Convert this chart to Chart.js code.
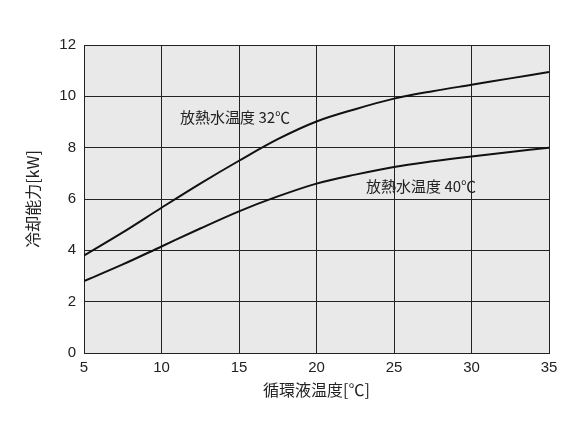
<!DOCTYPE html>
<html>
<head>
<meta charset="utf-8">
<script src="https://cdn.jsdelivr.net/npm/chart.js@4.4.1/dist/chart.umd.min.js"></script>
<style>
  html, body { margin: 0; padding: 0; background: #fff; }
  .chart-container { width: 583px; height: 437px; }
</style>
</head>
<body>
<div class="chart-container">
  <canvas id="chart" width="583" height="437"></canvas>
</div>
<script>
// 循環液温度 [℃]
const temps = [5, 7.5, 10, 12.5, 15, 17.5, 20, 22.5, 25, 27.5, 30, 32.5, 35];
// 冷却能力 [kW]
const water32 = [3.8, 4.7, 5.66, 6.6, 7.49, 8.33, 9.02, 9.5, 9.91, 10.2, 10.45, 10.7, 10.95];
const water40 = [2.8, 3.45, 4.15, 4.85, 5.52, 6.1, 6.6, 6.95, 7.25, 7.47, 7.66, 7.83, 8.0];
const seriesLabels = ['放熱水温度 32℃', '放熱水温度 40℃'];
const xTitle = '循環液温度[℃]';
const yTitle = '冷却能力[kW]';

const toPoints = (ys) => temps.map((t, i) => ({ x: t, y: ys[i] }));

// グレーの背景とテキスト
const decor = {
  id: 'decor',
  beforeDraw(chart) {
    const { ctx, chartArea: a } = chart;
    ctx.save();
    ctx.fillStyle = '#e9e9e9';
    ctx.fillRect(a.left, a.top, a.right - a.left, a.bottom - a.top);
    ctx.restore();
  },
  afterDraw(chart) {
    const { ctx } = chart;
    const xs = chart.scales.x, ys = chart.scales.y;
    ctx.save();
    ctx.fillStyle = '#222';
    ctx.font = '15px "Noto Sans CJK JP"';
    ctx.textBaseline = 'middle';
    ctx.textAlign = 'left';
    ctx.fillText(seriesLabels[0], xs.getPixelForValue(11.2), ys.getPixelForValue(9.2));
    ctx.fillText(seriesLabels[1], xs.getPixelForValue(23.2), ys.getPixelForValue(6.5));
    ctx.font = '16px "Noto Sans CJK JP"';
    ctx.textAlign = 'center';
    ctx.fillText(xTitle, (chart.chartArea.left + chart.chartArea.right) / 2, 390);
    ctx.translate(33, (chart.chartArea.top + chart.chartArea.bottom) / 2);
    ctx.rotate(-Math.PI / 2);
    ctx.fillText(yTitle, 0, 0);
    ctx.restore();
  }
};

const lineStyle = {
  borderColor: '#111',
  borderWidth: 2,
  pointRadius: 0,
  fill: false,
  tension: 0.4,
  cubicInterpolationMode: 'monotone'
};

new Chart(document.getElementById('chart').getContext('2d'), {
  type: 'line',
  data: {
    datasets: [
      { label: seriesLabels[0], data: toPoints(water32), ...lineStyle },
      { label: seriesLabels[1], data: toPoints(water40), ...lineStyle }
    ]
  },
  options: {
    responsive: false,
    animation: false,
    layout: { padding: { top: 45, right: 34, left: 0, bottom: 0 } },
    plugins: { legend: { display: false }, tooltip: { enabled: false } },
    scales: {
      x: {
        type: 'linear',
        min: 5,
        max: 35,
        afterFit(s) { s.height = 84; },
        ticks: { stepSize: 5, color: '#222', padding: 6, font: { family: 'Liberation Sans', size: 15 } },
        grid: { color: '#222', lineWidth: 1, drawTicks: false },
        border: { color: '#222', width: 1 }
      },
      y: {
        min: 0,
        max: 12,
        afterFit(s) { s.width = 84; },
        ticks: { stepSize: 2, color: '#222', padding: 8, font: { family: 'Liberation Sans', size: 15 } },
        grid: { color: '#222', lineWidth: 1, drawTicks: false },
        border: { color: '#222', width: 1 }
      }
    }
  },
  plugins: [decor]
});
</script>
</body>
</html>
